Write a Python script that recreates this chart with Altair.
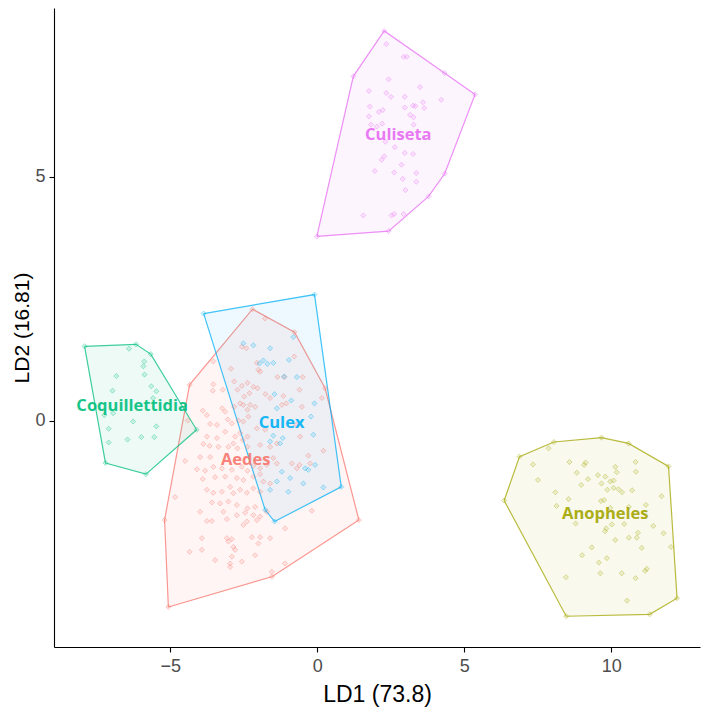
import altair as alt
import pandas as pd

# ---------------- data (LD1, LD2 scores) ----------------
genera = ["Aedes", "Anopheles", "Coquillettidia", "Culex", "Culiseta"]
colors = ["#F8766D", "#A3A500", "#00BF7D", "#00B0F6", "#E76BF3"]

aedes_x = [-1.77, -0.78, -2.56, -2.41, -2.05, -2.00, -1.94, -2.93, -1.35, -1.12, -0.49, -3.53, -3.55,
           -2.82, -2.71, -2.56, -2.37, -2.17, -2.03, -3.21, -2.30, -2.48, -1.76, -1.60, -1.15, -0.60,
           0.16, -3.89, -3.75, -3.23, -3.13, -2.82, -2.62, -2.51, -2.37, -2.28, -2.11, -1.20, -1.05,
           -0.52, -4.40, -3.64, -3.41, -3.04, -2.90, -2.68, -2.34, -2.51, -2.05, -1.77, -0.71, -3.75,
           -3.41, -3.13, -2.79, -2.62, -2.53, -2.37, -0.58, -3.87, -3.66, -3.36, -3.02, -2.85, -2.71,
           -2.37, -1.94, -1.60, -1.37, -4.49, -3.98, -3.64, -4.09, -3.81, -3.53, -3.24, -2.90, -2.56,
           -2.37, -2.17, -1.94, -1.71, -1.49, -1.37, -0.86, -0.69, -0.24, -3.89, -3.47, -3.13, -2.73,
           -2.51, -2.17, -1.94, -1.83, -1.60, -3.75, -3.53, -3.24, -2.96, -2.85, -2.62, -2.39, -2.17,
           -1.94, -4.83, -3.58, -3.30, -3.02, -2.73, -2.37, -2.11, -3.98, -3.19, -2.73, -2.45, -2.17,
           -1.94, -1.71, -3.75, -3.58, -3.07, -2.39, -2.51, -2.05, -0.18, -1.09, -3.92, -3.07, -3.02,
           -2.90, -2.22, -1.94, -1.60, -2.00, -2.85, -2.79, -4.34, -3.92, -2.11, -2.90, -2.96, -2.96,
           -2.56, -1.54, -1.09, -2.20, -0.77, 0.27, 1.42, -1.54, -5.06, -5.19, -4.34, -3.53, 0.21,
           -0.30, -0.60, -3.47]
aedes_y = [2.10, 1.32, 1.52, 1.49, 1.19, 1.05, 1.01, 1.07, 0.90, 0.90, 0.90, 0.75, 0.62,
           0.81, 0.64, 0.72, 0.78, 0.70, 0.67, 0.64, 0.57, 0.50, 0.55, 0.47, 0.51, 0.64,
           0.47, 0.21, 0.12, 0.26, 0.19, 0.29, 0.36, 0.33, 0.23, 0.33, 0.29, 0.33, 0.36,
           0.29, 0.01, -0.06, -0.08, 0.03, -0.05, 0.01, 0.09, -0.01, -0.15, -0.18, -0.08, -0.32,
           -0.35, -0.22, -0.32, -0.25, -0.39, -0.32, -0.32, -0.47, -0.51, -0.53, -0.53, -0.46, -0.56,
           -0.53, -0.49, -0.53, -0.46, -0.82, -0.74, -0.74, -0.99, -1.02, -0.94, -0.97, -1.00, -0.94,
           -1.02, -0.92, -0.97, -0.90, -0.76, -0.87, -0.87, -0.97, -0.87, -1.19, -1.15, -1.14, -1.17,
           -1.21, -1.14, -1.09, -1.24, -1.28, -1.41, -1.47, -1.45, -1.35, -1.48, -1.41, -1.47, -1.38,
           -1.45, -1.56, -1.67, -1.69, -1.65, -1.72, -1.79, -1.76, -1.86, -1.86, -1.93, -1.88, -1.93,
           -1.96, -1.86, -2.05, -2.05, -2.01, -2.06, -2.13, -2.03, -1.84, -2.20, -2.40, -2.40, -2.47,
           -2.42, -2.38, -2.38, -2.40, -2.51, -2.58, -2.64, -2.68, -2.64, -2.75, -2.78, -2.92, -2.99,
           -2.88, -3.09, -2.92, 2.29, 1.82, 0.67, -2.03, -3.19, -3.81, -2.03, 0.74, 1.22, -0.61,
           -0.71, -0.90, -2.85]

anopheles_x = [7.34, 8.58, 9.13, 9.08, 10.14, 10.83, 7.51, 8.83, 9.21, 9.55, 9.80, 10.19, 10.84,
               8.98, 9.67, 9.97, 10.08, 9.87, 10.08, 10.25, 10.37, 10.71, 8.10, 8.55, 9.65, 9.76,
               11.71, 8.14, 9.97, 10.60, 11.18, 8.79, 10.02, 10.44, 11.43, 9.83, 9.79, 10.91, 11.78,
               10.14, 10.60, 10.87, 9.34, 11.04, 12.03, 9.01, 9.85, 9.58, 8.46, 9.63, 10.36, 11.15,
               11.21, 10.83, 10.54, 6.36, 6.88, 8.05, 9.67, 10.59, 11.95, 12.24, 11.31, 8.47, 7.87]
anopheles_y = [-0.89, -0.84, -0.85, -0.90, -0.94, -0.84, -1.21, -1.06, -1.19, -1.11, -1.14, -1.05, -1.04,
               -1.31, -1.28, -1.24, -1.22, -1.41, -1.37, -1.40, -1.46, -1.42, -1.46, -1.60, -1.64, -1.62,
               -1.54, -1.74, -1.78, -1.76, -1.72, -2.10, -2.12, -2.11, -2.15, -2.20, -2.26, -2.29, -2.30,
               -2.44, -2.39, -2.39, -2.59, -2.60, -2.58, -2.75, -2.81, -2.90, -3.20, -3.12, -3.12, -3.07,
               -3.03, -3.22, -3.68, -1.63, -0.73, -0.43, -0.34, -0.46, -0.93, -3.63, -3.96, -4.00, -0.56]

coquillettidia_x = [-6.40, -5.88, -5.91, -5.87, -6.83, -6.96, -5.64, -5.47, -5.58, -7.24, -6.94, -6.26,
                    -5.47, -7.09, -7.09, -6.45, -5.98, -5.54, -7.91, -6.16, -5.66, -4.10, -5.82, -7.20]
coquillettidia_y = [1.48, 1.22, 1.12, 0.95, 0.92, 0.62, 0.71, 0.61, 0.47, 0.12, 0.16, -0.01,
                    -0.11, -0.16, -0.44, -0.38, -0.33, -0.33, 1.53, 1.57, 1.37, -0.18, -1.09, -0.86]

culex_x = [-2.51, -2.17, -1.60, -0.81, -1.96, -1.83, -1.69, -1.49, -0.96, -0.69, -1.12, -1.45, -0.88,
           -1.37, -0.09, -0.21, -0.13, -1.17, -1.49, -1.60, -1.20, -0.92, -0.41, -0.30, -0.07, -0.47,
           0.21, -1.37, -1.60, -0.98, -1.26, -3.86, -0.09, 0.82, -1.45, -1.77]
culex_y = [1.59, 1.55, 1.49, 1.72, 1.18, 1.24, 1.17, 1.19, 1.25, 0.90, 0.91, 0.55, 0.42,
           0.26, 0.36, 0.09, -0.28, -0.35, -0.30, -0.42, -1.04, -1.17, -0.97, -1.00, -0.90, -1.28,
           -1.36, -1.24, -1.41, -1.45, -0.46, 2.20, 2.59, -1.35, -2.06, -1.82]

culiseta_x = [2.28, 2.35, 2.94, 3.05, 2.43, 3.50, 1.76, 2.35, 2.51, 2.98, 4.22, 3.60, 1.79, 2.23,
              2.10, 2.98, 3.26, 3.34, 3.64, 1.76, 3.16, 3.28, 1.83, 2.03, 2.21, 3.28, 2.32, 2.64,
              2.98, 3.26, 2.28, 2.19, 2.87, 1.96, 2.62, 3.37, 2.91, 3.37, 3.00, 1.57, 2.53, 2.62,
              2.94, 1.23, 4.33, 5.37, 4.34, 3.79, 2.43, -0.01]
culiseta_y = [7.99, 7.72, 7.46, 7.46, 7.00, 6.84, 6.76, 6.72, 6.64, 6.64, 6.58, 6.53, 6.44, 6.37,
              6.33, 6.42, 6.46, 6.45, 6.41, 6.24, 6.27, 6.22, 6.07, 6.03, 6.09, 6.07, 5.72, 5.61,
              5.49, 5.47, 5.42, 5.35, 5.25, 5.12, 5.09, 5.08, 4.96, 4.90, 4.73, 4.21, 4.21, 4.24,
              4.24, 7.06, 7.13, 6.69, 5.07, 4.60, 3.89, 3.78]

label_x = [-2.43, 9.80, -6.29, -1.21, 2.76]
label_y = [-0.80, -1.91, 0.31, -0.04, 5.86]

x_ticks = [-5, 0, 5, 10]
y_ticks = [0, 5]
x_title = "LD1 (73.8)"
y_title = "LD2 (16.81)"

# ---------------- build tables ----------------
series = {
    "Aedes": (aedes_x, aedes_y),
    "Anopheles": (anopheles_x, anopheles_y),
    "Coquillettidia": (coquillettidia_x, coquillettidia_y),
    "Culex": (culex_x, culex_y),
    "Culiseta": (culiseta_x, culiseta_y),
}

rows = []
for g, (xs, ys) in series.items():
    for a, b in zip(xs, ys):
        rows.append({"genus": g, "LD1": a, "LD2": b})
points = pd.DataFrame(rows)


def convex_hull(pts):
    pts = sorted(set(pts))
    if len(pts) <= 2:
        return pts

    def cross(o, a, b):
        return (a[0] - o[0]) * (b[1] - o[1]) - (a[1] - o[1]) * (b[0] - o[0])

    lower, upper = [], []
    for p in pts:
        while len(lower) >= 2 and cross(lower[-2], lower[-1], p) <= 0:
            lower.pop()
        lower.append(p)
    for p in reversed(pts):
        while len(upper) >= 2 and cross(upper[-2], upper[-1], p) <= 0:
            upper.pop()
        upper.append(p)
    return lower[:-1] + upper[:-1]


hull_rows = []
for g, (xs, ys) in series.items():
    h = convex_hull(list(zip(xs, ys)))
    h = h + [h[0]]
    for i, (a, b) in enumerate(h):
        hull_rows.append({"genus": g, "LD1": a, "LD2": b, "ord": i})
hulls = pd.DataFrame(hull_rows)

labels = pd.DataFrame({"genus": genera, "LD1": label_x, "LD2": label_y})

# ---------------- scales ----------------
xscale = alt.Scale(domain=[-8.95, 13.02], nice=False, zero=False)
yscale = alt.Scale(domain=[-4.63, 8.46], nice=False, zero=False)
cscale = alt.Scale(domain=genera, range=colors)

X = alt.X("LD1:Q", scale=xscale, title=x_title,
          axis=alt.Axis(values=x_ticks, titlePadding=8, labelPadding=5))
Y = alt.Y("LD2:Q", scale=yscale, title=y_title,
          axis=alt.Axis(values=y_ticks, titlePadding=2, labelPadding=4))

layers = []
for g, c in zip(genera, colors):
    layers.append(
        alt.Chart(hulls[hulls["genus"] == g])
        .mark_line(fill=c, fillOpacity=0.07, stroke=c, strokeOpacity=0.75, strokeWidth=1.2)
        .encode(x=X, y=Y, order="ord:Q")
    )

pts_layer = (
    alt.Chart(points)
    .mark_point(shape="diamond", size=26, filled=True, fillOpacity=0.15,
                strokeOpacity=0.35, strokeWidth=1)
    .encode(
        x=X, y=Y,
        color=alt.Color("genus:N", scale=cscale, legend=None),
        stroke=alt.Stroke("genus:N", scale=cscale, legend=None),
    )
)

text_layer = (
    alt.Chart(labels)
    .mark_text(font="Open Sans", fontSize=16.5, fontWeight="bold", opacity=0.9)
    .encode(x=X, y=Y, text="genus:N",
            color=alt.Color("genus:N", scale=cscale, legend=None))
)

chart = (
    alt.layer(*layers, pts_layer, text_layer)
    .properties(
        width=646, height=639,
        autosize=alt.AutoSizeParams(type="none"),
        padding={"left": 46, "top": 0, "right": 2, "bottom": 62},
    )
    .configure_view(stroke=None)
    .configure_axis(
        grid=False,
        domainColor="#000000", domainWidth=1.1,
        tickColor="#000000", tickSize=5, tickWidth=1.1,
        labelColor="#4D4D4D", labelFont="Liberation Sans", labelFontSize=18,
        titleColor="#000000", titleFont="Liberation Sans", titleFontSize=23,
        titleFontWeight="normal",
    )
    .configure_axisY(labelAngle=0, titleFontSize=21)
)

chart.save("out.html", embed_options={"renderer": "svg", "actions": False})
